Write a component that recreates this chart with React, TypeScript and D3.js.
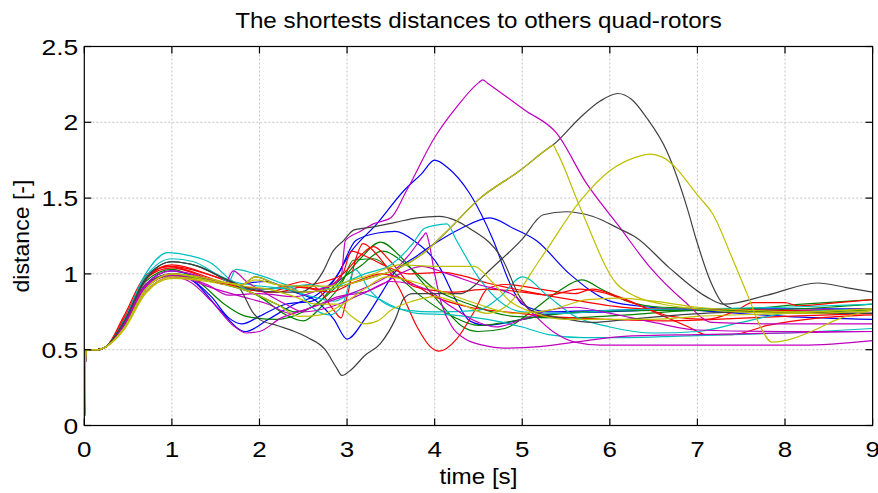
import React from 'react';
import * as d3 from 'd3';

type Pt = [number, number];

const TITLE = 'The shortests distances to others quad-rotors';
const X_LABEL = 'time [s]';
const Y_LABEL = 'distance [-]';
const X_TICKS = [0, 1, 2, 3, 4, 5, 6, 7, 8, 9];
const Y_TICKS = [0, 0.5, 1, 1.5, 2, 2.5];

// take-off: every quad-rotor starts on the ground and jumps to the 0.5 spacing
const LAUNCH: Pt[] = [[0, 0], [0.02, 0.5], [0.15, 0.5], [0.25, 0.52]];

const B1: Pt[] = [...LAUNCH, [0.45, 0.66], [0.7, 0.92], [1.0, 1.0], [1.25, 0.95], [1.55, 0.76], [1.84, 0.62], [2.1, 0.7], [2.4, 0.8], [2.65, 0.86], [2.85, 0.96], [3.05, 1.15], [3.34, 1.33], [3.65, 1.55], [3.85, 1.66], [4.0, 1.75], [4.15, 1.7], [4.4, 1.53], [4.67, 1.22], [4.85, 0.95], [5.0, 0.8], [5.3, 0.75], [6, 0.76], [7, 0.77], [8, 0.77], [9, 0.77]];
const B2: Pt[] = [...LAUNCH, [0.45, 0.66], [0.7, 0.93], [1.0, 1.02], [1.3, 0.98], [1.7, 0.93], [2.08, 0.95], [2.4, 0.88], [2.65, 0.82], [2.85, 0.7], [3.0, 0.57], [3.2, 0.7], [3.4, 0.88], [3.53, 1.0], [3.8, 1.12], [4.0, 1.2], [4.3, 1.3], [4.63, 1.37], [4.9, 1.3], [5.16, 1.22], [5.54, 1.0], [6.0, 0.82], [6.3, 0.79], [7, 0.76], [8, 0.72], [9, 0.7]];
const B3: Pt[] = [...LAUNCH, [0.45, 0.65], [0.7, 0.9], [1.0, 1.0], [1.2, 0.97], [1.45, 0.85], [1.65, 0.71], [1.8, 0.67], [2.0, 0.72], [2.3, 0.8], [2.6, 0.82], [2.9, 1.0], [3.1, 1.22], [3.35, 1.27], [3.55, 1.28], [3.76, 1.22], [4.06, 1.04], [4.25, 0.82], [4.4, 0.69], [4.6, 0.66], [5.0, 0.7], [5.4, 0.74], [6, 0.75], [7, 0.77], [8, 0.76], [9, 0.77]];

const G1: Pt[] = [...LAUNCH, [0.45, 0.68], [0.7, 0.95], [1.0, 1.03], [1.3, 0.95], [1.6, 0.8], [1.8, 0.73], [1.95, 0.71], [2.2, 0.7], [2.5, 0.75], [2.85, 0.9], [3.15, 1.1], [3.38, 1.21], [3.6, 1.12], [3.85, 0.95], [4.1, 0.78], [4.3, 0.66], [4.5, 0.62], [4.8, 0.64], [5.1, 0.75], [5.4, 0.88], [5.68, 0.96], [5.9, 0.9], [6.2, 0.82], [6.6, 0.78], [7.5, 0.77], [8.2, 0.8], [9, 0.83]];
const G2: Pt[] = [...LAUNCH, [0.45, 0.67], [0.7, 0.93], [1.0, 1.0], [1.4, 0.96], [1.7, 0.92], [2.0, 0.85], [2.3, 0.73], [2.5, 0.69], [2.7, 0.78], [2.95, 0.95], [3.07, 1.09], [3.3, 1.1], [3.55, 1.0], [3.85, 0.85], [4.2, 0.72], [4.5, 0.66], [4.8, 0.68], [5.2, 0.72], [5.7, 0.75], [6.5, 0.76], [7.5, 0.76], [8.5, 0.78], [9, 0.8]];
const G3: Pt[] = [...LAUNCH, [0.45, 0.67], [0.7, 0.92], [1.0, 0.99], [1.3, 0.97], [1.6, 0.93], [1.9, 0.88], [2.2, 0.8], [2.4, 0.75], [2.65, 0.8], [2.9, 0.95], [3.15, 1.05], [3.4, 1.15], [3.7, 1.05], [4.0, 0.9], [4.4, 0.8], [4.9, 0.72], [5.5, 0.71], [6.2, 0.73], [7, 0.76], [8, 0.75], [9, 0.76]];

const R1: Pt[] = [...LAUNCH, [0.45, 0.7], [0.7, 0.97], [1.0, 1.06], [1.5, 0.98], [1.8, 0.92], [2.1, 0.9], [2.35, 0.93], [2.5, 0.95], [2.7, 0.88], [2.85, 0.76], [2.93, 0.71], [3.0, 0.85], [3.1, 1.1], [3.18, 1.2], [3.35, 1.12], [3.6, 0.9], [3.8, 0.65], [3.95, 0.52], [4.05, 0.49], [4.25, 0.57], [4.45, 0.75], [4.6, 0.9], [4.8, 0.93], [5.2, 0.9], [5.6, 0.87], [5.8, 0.9], [6.1, 0.85], [6.5, 0.75], [6.9, 0.65], [7.1, 0.6], [7.4, 0.6], [7.8, 0.66], [8.4, 0.71], [9, 0.73]];
const R2: Pt[] = [...LAUNCH, [0.45, 0.7], [0.7, 0.97], [1.0, 1.04], [1.5, 0.95], [1.85, 0.9], [2.1, 0.88], [2.4, 0.92], [2.7, 0.9], [2.95, 1.0], [3.05, 1.15], [3.2, 1.12], [3.45, 1.05], [3.7, 1.0], [4.1, 1.01], [4.3, 0.99], [4.6, 0.94], [5.0, 0.89], [5.66, 0.82], [6.0, 0.79], [6.4, 0.77], [7, 0.77], [8, 0.76], [9, 0.77]];
const R3: Pt[] = [...LAUNCH, [0.45, 0.69], [0.7, 0.96], [0.95, 1.05], [1.5, 0.96], [1.85, 0.9], [2.2, 0.88], [2.5, 0.92], [2.75, 0.95], [2.95, 1.0], [3.15, 1.12], [3.3, 1.18], [3.5, 1.08], [3.75, 0.92], [4.0, 0.89], [4.2, 0.88], [4.6, 0.9], [5.0, 0.88], [5.3, 0.86], [5.65, 0.9], [5.9, 0.88], [6.3, 0.8], [6.7, 0.72], [7.1, 0.7], [7.45, 0.76], [7.63, 0.81], [8.0, 0.81], [8.15, 0.79], [8.6, 0.81], [9, 0.83]];
const R4: Pt[] = [...LAUNCH, [0.45, 0.72], [0.72, 1.0], [1.0, 1.05], [1.5, 0.98], [1.8, 0.92], [2.1, 0.9], [2.3, 0.92], [2.6, 0.9], [2.8, 0.88], [3.1, 0.95], [3.4, 1.0], [3.7, 0.95], [4.0, 0.85], [4.4, 0.78], [4.8, 0.75], [5.3, 0.72], [6.0, 0.7], [6.6, 0.69], [7.2, 0.7], [8, 0.72], [9, 0.74]];

const C1: Pt[] = [...LAUNCH, [0.45, 0.69], [0.7, 1.0], [0.95, 1.14], [1.2, 1.12], [1.45, 1.07], [1.65, 0.97], [1.85, 0.9], [2.1, 0.9], [2.4, 0.92], [2.6, 0.93], [2.8, 0.9], [3.0, 0.95], [3.2, 1.0], [3.5, 1.06], [3.75, 1.2], [3.88, 1.3], [4.0, 1.32], [4.14, 1.33], [4.25, 1.22], [4.52, 0.96], [4.74, 0.82], [5.0, 0.75], [5.5, 0.74], [6, 0.76], [7, 0.77], [8, 0.78], [9, 0.8]];
const C2: Pt[] = [...LAUNCH, [0.45, 0.68], [0.7, 0.98], [1.0, 1.1], [1.25, 1.08], [1.5, 1.0], [1.65, 0.95], [1.73, 1.03], [1.95, 1.0], [2.2, 0.95], [2.45, 0.88], [2.6, 0.78], [2.8, 0.73], [2.95, 0.8], [3.09, 1.03], [3.25, 0.9], [3.45, 0.8], [3.7, 0.76], [4.0, 0.75], [4.5, 0.76], [4.75, 0.85], [5.0, 0.98], [5.3, 0.85], [5.6, 0.72], [6.0, 0.65], [6.5, 0.61], [7.0, 0.62], [7.5, 0.68], [8.0, 0.74], [9, 0.77]];
const C3: Pt[] = [...LAUNCH, [0.45, 0.68], [0.7, 0.97], [1.0, 1.08], [1.3, 1.05], [1.7, 0.95], [2.0, 0.92], [2.3, 0.9], [2.6, 0.85], [2.85, 0.82], [3.1, 0.88], [3.3, 0.85], [3.55, 0.78], [3.8, 0.74], [4.2, 0.73], [4.6, 0.7], [5.0, 0.65], [5.3, 0.6], [5.7, 0.58], [6.2, 0.58], [6.8, 0.59], [7.4, 0.6], [8, 0.61], [9, 0.64]];

const M1: Pt[] = [...LAUNCH, [0.45, 0.66], [0.7, 0.92], [1.0, 1.0], [1.4, 0.93], [1.65, 0.86], [2.0, 0.87], [2.4, 0.85], [2.7, 0.9], [2.93, 0.97], [2.98, 1.22], [3.15, 1.28], [3.3, 1.33], [3.5, 1.37], [3.68, 1.55], [4.0, 1.9], [4.25, 2.1], [4.5, 2.26], [4.55, 2.28], [4.6, 2.26], [5.03, 2.08], [5.39, 1.93], [5.73, 1.6], [6.11, 1.31], [6.45, 1.05], [6.85, 0.82], [7.17, 0.68], [8, 0.67], [9, 0.67]];
const M2: Pt[] = [...LAUNCH, [0.45, 0.64], [0.7, 0.88], [1.0, 0.98], [1.2, 0.95], [1.45, 0.82], [1.7, 0.66], [1.85, 0.61], [2.0, 0.62], [2.25, 0.71], [2.45, 0.75], [2.7, 0.8], [3.0, 0.86], [3.25, 0.92], [3.5, 1.0], [3.7, 1.12], [3.87, 1.25], [3.9, 1.27], [3.93, 1.22], [4.0, 1.0], [4.08, 0.8], [4.2, 0.65], [4.35, 0.57], [4.55, 0.53], [4.8, 0.51], [5.2, 0.52], [5.6, 0.55], [6.2, 0.59], [7, 0.6], [8, 0.61], [9, 0.62]];
const M3: Pt[] = [...LAUNCH, [0.45, 0.67], [0.7, 0.93], [1.0, 1.02], [1.45, 0.96], [1.6, 0.93], [1.7, 1.02], [1.85, 0.95], [2.05, 0.88], [2.3, 0.8], [2.5, 0.75], [2.8, 0.78], [3.1, 0.85], [3.4, 0.93], [3.6, 1.0], [3.85, 1.05], [4.15, 1.0], [4.5, 0.93], [4.9, 0.86], [5.1, 0.75], [5.35, 0.62], [5.6, 0.55], [5.9, 0.53], [6.5, 0.53], [7.5, 0.53], [8.2, 0.53], [9, 0.56]];
const M4: Pt[] = [...LAUNCH, [0.45, 0.66], [0.7, 0.91], [1.0, 0.99], [1.5, 0.9], [1.8, 0.85], [2.1, 0.8], [2.35, 0.74], [2.6, 0.78], [2.9, 0.85], [3.2, 0.88], [3.5, 0.95], [3.9, 0.9], [4.2, 0.78], [4.5, 0.68], [4.7, 0.65], [5.0, 0.7], [5.3, 0.76], [5.6, 0.78], [6.0, 0.74], [6.5, 0.68], [7, 0.63], [8, 0.62], [9, 0.62]];

// the yellow and the tall gray curve share one pair distance up to t = 5.35 s
const Y1_CLIMB: Pt[] = [...LAUNCH, [0.45, 0.64], [0.7, 0.9], [1.0, 1.0], [1.5, 0.95], [1.8, 0.93], [1.95, 0.98], [2.2, 0.93], [2.5, 0.88], [2.8, 0.9], [3.0, 0.93], [3.3, 0.98], [3.6, 1.04], [3.9, 1.15], [4.12, 1.27], [4.52, 1.5], [4.97, 1.68], [5.3, 1.83], [5.35, 1.85]];
const Y1: Pt[] = [...Y1_CLIMB, [5.4, 1.8], [5.66, 1.44], [6.07, 0.94], [6.3, 0.85], [6.6, 0.8], [7.0, 0.77], [7.5, 0.75], [8.3, 0.74], [9, 0.76]];
const K1: Pt[] = [...Y1_CLIMB, [5.66, 2.03], [5.89, 2.14], [6.09, 2.19], [6.25, 2.15], [6.42, 2.03], [6.65, 1.81], [6.88, 1.44], [6.99, 1.22], [7.15, 0.95], [7.3, 0.8], [7.5, 0.76], [8, 0.75], [9, 0.74]];
const Y2: Pt[] = [...LAUNCH, [0.45, 0.64], [0.7, 0.9], [1.0, 1.0], [1.5, 0.96], [1.8, 0.92], [2.1, 0.9], [2.4, 0.85], [2.65, 0.8], [2.88, 0.8], [3.05, 0.72], [3.2, 0.67], [3.35, 0.69], [3.5, 0.76], [3.75, 0.82], [4.0, 0.85], [4.3, 0.8], [4.6, 0.74], [4.8, 0.78], [5.22, 1.11], [5.66, 1.48], [6.0, 1.68], [6.3, 1.77], [6.46, 1.79], [6.6, 1.77], [7.03, 1.5], [7.17, 1.4], [7.4, 1.1], [7.58, 0.85], [7.72, 0.65], [7.85, 0.55], [8.0, 0.56], [8.3, 0.62], [8.6, 0.7], [9, 0.76]];
const Y3: Pt[] = [...LAUNCH, [0.45, 0.63], [0.7, 0.88], [1.0, 0.98], [1.5, 0.95], [1.8, 0.93], [1.95, 0.96], [2.2, 0.93], [2.5, 0.92], [2.8, 0.92], [3.0, 0.95], [3.3, 1.0], [3.6, 1.06], [4.0, 1.05], [4.45, 1.05], [4.65, 0.95], [4.86, 0.82], [5.1, 0.75], [5.5, 0.7], [6.0, 0.7], [6.5, 0.7], [7, 0.72], [8, 0.74], [9, 0.77]];
const Y4: Pt[] = [...LAUNCH, [0.45, 0.63], [0.7, 0.87], [1.0, 0.97], [1.4, 0.95], [1.8, 0.9], [2.2, 0.8], [2.45, 0.72], [2.7, 0.73], [2.95, 0.8], [3.2, 0.9], [3.45, 0.98], [3.75, 0.95], [4.1, 0.88], [4.5, 0.8], [4.9, 0.74], [5.3, 0.76], [5.75, 0.83], [6.1, 0.84], [6.5, 0.82], [7.0, 0.78], [7.6, 0.76], [8.2, 0.75], [9, 0.77]];

const K2: Pt[] = [...LAUNCH, [0.45, 0.68], [0.7, 0.97], [1.0, 1.08], [1.3, 1.05], [1.55, 0.98], [1.78, 0.9], [1.92, 0.75], [2.0, 0.7], [2.2, 0.66], [2.4, 0.62], [2.55, 0.58], [2.75, 0.5], [2.88, 0.38], [2.94, 0.33], [3.05, 0.37], [3.2, 0.46], [3.38, 0.54], [3.55, 0.7], [3.65, 0.84], [3.75, 0.87], [4.0, 0.87], [4.3, 0.87], [4.45, 0.92], [4.55, 0.98], [5.0, 1.23], [5.24, 1.39], [5.5, 1.41], [5.8, 1.38], [6.1, 1.3], [6.3, 1.24], [6.68, 1.04], [7.1, 0.85], [7.3, 0.8], [7.8, 0.86], [8.37, 0.94], [8.7, 0.91], [9, 0.88]];
const K3: Pt[] = [...LAUNCH, [0.45, 0.68], [0.7, 0.96], [1.0, 1.08], [1.3, 1.05], [1.6, 0.97], [1.9, 0.9], [2.2, 0.88], [2.45, 0.88], [2.62, 0.93], [2.73, 1.02], [2.84, 1.15], [2.96, 1.22], [3.08, 1.29], [3.3, 1.31], [3.55, 1.34], [3.8, 1.37], [4.05, 1.38], [4.25, 1.35], [4.4, 1.3], [4.78, 1.09], [4.97, 0.85], [5.1, 0.76], [5.43, 0.71], [5.8, 0.68], [6.2, 0.7], [6.8, 0.73], [7.5, 0.75], [8.3, 0.74], [9, 0.74]];

const BLUE = '#0000ff';
const GREEN = '#008000';
const RED = '#ff0000';
const CYAN = '#00bfbf';
const MAGENTA = '#bf00bf';
const YELLOW = '#bfbf00';
const GRAY = '#404040';

const SERIES: { data: Pt[]; color: string }[] = [
  { data: K1, color: GRAY },
  { data: B1, color: BLUE },
  { data: B2, color: BLUE },
  { data: B3, color: BLUE },
  { data: G1, color: GREEN },
  { data: G2, color: GREEN },
  { data: G3, color: GREEN },
  { data: R1, color: RED },
  { data: R2, color: RED },
  { data: R3, color: RED },
  { data: R4, color: RED },
  { data: C1, color: CYAN },
  { data: C2, color: CYAN },
  { data: C3, color: CYAN },
  { data: M1, color: MAGENTA },
  { data: M2, color: MAGENTA },
  { data: M3, color: MAGENTA },
  { data: M4, color: MAGENTA },
  { data: K2, color: GRAY },
  { data: K3, color: GRAY },
  { data: Y1, color: YELLOW },
  { data: Y2, color: YELLOW },
  { data: Y3, color: YELLOW },
  { data: Y4, color: YELLOW },
];

const W = 878;
const H = 493;
const LEFT = 84.3;
const RIGHT = 872.6;
const TOP = 46.5;
const BOTTOM = 425.5;
const FONT = '"Liberation Sans", Arial, Helvetica, sans-serif';

export default function App() {
  const x = d3.scaleLinear().domain([0, 9]).range([LEFT, RIGHT]);
  const y = d3.scaleLinear().domain([0, 2.5]).range([BOTTOM, TOP]);
  const line = d3
    .line<Pt>()
    .x((d) => x(d[0]))
    .y((d) => y(d[1]))
    .curve(d3.curveMonotoneX);
  const tick = 7;

  return (
    <svg
      width={W}
      height={H}
      viewBox={`0 0 ${W} ${H}`}
      style={{ position: 'absolute', left: 0, top: 0, background: '#fff' }}
    >
      <rect x={0} y={0} width={W} height={H} fill="#fff" />
      <defs>
        <clipPath id="plot-area">
          <rect x={LEFT} y={TOP} width={RIGHT - LEFT} height={BOTTOM - TOP} />
        </clipPath>
      </defs>

      {/* dotted grid */}
      <g stroke="#c4c4c4" strokeWidth={1} strokeDasharray="2,2">
        {X_TICKS.slice(1, -1).map((t) => (
          <line key={`gx${t}`} x1={x(t)} x2={x(t)} y1={TOP} y2={BOTTOM} />
        ))}
        {Y_TICKS.slice(1, -1).map((v) => (
          <line key={`gy${v}`} x1={LEFT} x2={RIGHT} y1={y(v)} y2={y(v)} />
        ))}
      </g>

      {/* distance curves */}
      <g clipPath="url(#plot-area)" fill="none" strokeWidth={1.2} strokeLinejoin="round">
        {SERIES.map((s, i) => (
          <path key={i} d={line(s.data) || ''} stroke={s.color} />
        ))}
      </g>

      {/* box and inward ticks */}
      <g stroke="#000" strokeWidth={1.2}>
        <rect x={LEFT} y={TOP} width={RIGHT - LEFT} height={BOTTOM - TOP} fill="none" />
        {X_TICKS.map((t) => (
          <g key={`tx${t}`}>
            <line x1={x(t)} x2={x(t)} y1={BOTTOM} y2={BOTTOM - tick} />
            <line x1={x(t)} x2={x(t)} y1={TOP} y2={TOP + tick} />
          </g>
        ))}
        {Y_TICKS.map((v) => (
          <g key={`ty${v}`}>
            <line x1={LEFT} x2={LEFT + tick} y1={y(v)} y2={y(v)} />
            <line x1={RIGHT} x2={RIGHT - tick} y1={y(v)} y2={y(v)} />
          </g>
        ))}
      </g>

      {/* tick labels */}
      <g fontFamily={FONT} fontSize={22} fill="#000">
        {X_TICKS.map((t) => (
          <text
            key={`lx${t}`}
            textAnchor="middle"
            transform={`translate(${x(t)},${BOTTOM + 31}) scale(1.18,1)`}
          >
            {t}
          </text>
        ))}
        {Y_TICKS.map((v) => (
          <text
            key={`ly${v}`}
            textAnchor="end"
            transform={`translate(${LEFT - 6},${y(v) + 8}) scale(1.2,1)`}
          >
            {v}
          </text>
        ))}
      </g>

      {/* title and axis labels */}
      <text
        fontFamily={FONT}
        fontSize={22}
        textAnchor="middle"
        transform={`translate(${(LEFT + RIGHT) / 2},28) scale(1.1,1)`}
      >
        {TITLE}
      </text>
      <text
        fontFamily={FONT}
        fontSize={22}
        textAnchor="middle"
        transform={`translate(${(LEFT + RIGHT) / 2},484) scale(1.1,1)`}
      >
        {X_LABEL}
      </text>
      <text
        fontFamily={FONT}
        fontSize={22}
        textAnchor="middle"
        transform={`translate(29,${(TOP + BOTTOM) / 2}) rotate(-90) scale(1.05,1)`}
      >
        {Y_LABEL}
      </text>
    </svg>
  );
}
